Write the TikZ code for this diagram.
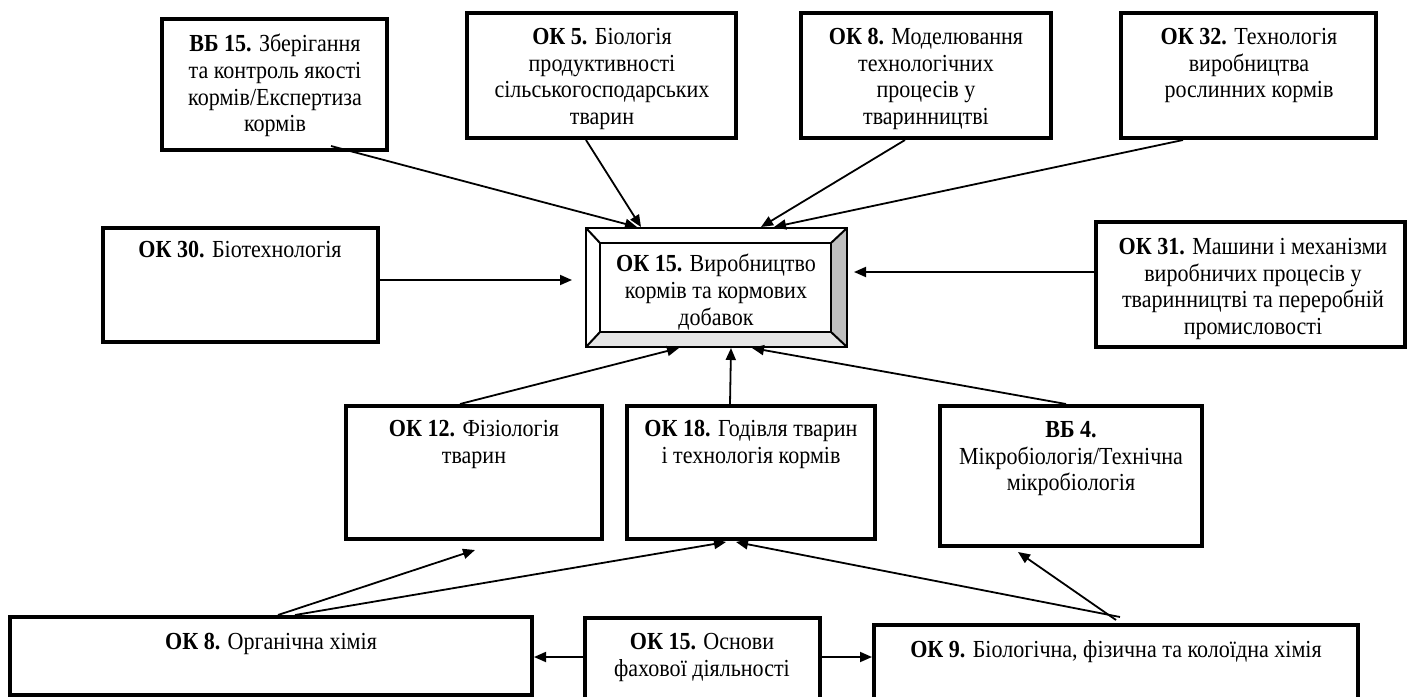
\documentclass[tikz,border=0pt]{standalone}
\usepackage{fontspec}
\setmainfont{Liberation Serif}[FakeStretch=0.9]
\usetikzlibrary{arrows.meta,calc}
\tikzset{
  box/.style={draw=black,line width=2pt,rectangle,inner sep=0pt,fill=none},
  txt/.style={font=\fontsize{12.25}{13.3}\selectfont,align=center,inner sep=0pt,anchor=north},
  arr/.style={draw=black,line width=0.9pt,-{Triangle[length=6pt,width=5pt]}},
  bevel/.style={draw=black,line width=1pt}
}
\begin{document}
\begin{tikzpicture}[x=0.5pt,y=-0.5pt]
\useasboundingbox (0,0) rectangle (1408,696);
\fill[white] (0,0) rectangle (1408,696);
\clip (0,0) rectangle (1408,696);
% bevelled centre box
\fill[gray!50] (847,228) -- (847,347) -- (831,332) -- (831,243) -- cycle;
\fill[gray!20] (586,347) -- (847,347) -- (831,332) -- (600,332) -- cycle;
\draw[bevel] (600,243) rectangle (831,332);
\draw[bevel] (586,228) -- (600,243) (847,228) -- (831,243) (847,347) -- (831,332) (586,347) -- (600,332);
\node[draw=black,line width=1pt,inner sep=0pt,minimum width=130.5pt,minimum height=59.5pt] (ok15c) at (716.5,287.5) {};
\node[txt] (ok15ct) at (716,254) {\textbf{ОК 15.} Виробництво\\кормів та кормових\\добавок};
% top row
\node[box,minimum width=112.5pt,minimum height=65.5pt] (b15) at (274.5,84.5) {};
\node[txt] (b15t) at (275,34) {\textbf{ВБ 15.} Зберігання\\та контроль якості\\кормів/Експертиза\\кормів};
\node[box,minimum width=134.5pt,minimum height=62.5pt] (ok5) at (601.5,75.5) {};
\node[txt] (ok5t) at (602,28) {\textbf{ОК 5.} Біологія\\продуктивності\\сільськогосподарських\\тварин};
\node[box,minimum width=125pt,minimum height=62.5pt] (ok8t) at (926,75.5) {};
\node[txt] (ok8tt) at (926,28) {\textbf{ОК 8.} Моделювання\\технологічних\\процесів у\\тваринництві};
\node[box,minimum width=127.5pt,minimum height=62.5pt] (ok32) at (1248.5,75.5) {};
\node[txt] (ok32t) at (1249,28) {\textbf{ОК 32.} Технологія\\виробництва\\рослинних кормів};
% middle row
\node[box,minimum width=137.5pt,minimum height=57pt] (ok30) at (240.5,285) {};
\node[txt] (ok30t) at (240,241) {\textbf{ОК 30.} Біотехнологія};
\node[box,minimum width=154.5pt,minimum height=62.5pt] (ok31) at (1250.5,284.5) {};
\node[txt] (ok31t) at (1253,238) {\textbf{ОК 31.} Машини і механізми\\виробничих процесів у\\тваринництві та переробній\\промисловості};
% lower row
\node[box,minimum width=128pt,minimum height=66.5pt] (ok12) at (474,472.5) {};
\node[txt] (ok12t) at (474,420) {\textbf{ОК 12.} Фізіологія\\тварин};
\node[box,minimum width=124pt,minimum height=66.5pt] (ok18) at (751,472.5) {};
\node[txt] (ok18t) at (751,420) {\textbf{ОК 18.} Годівля тварин\\і технологія кормів};
\node[box,minimum width=131pt,minimum height=70pt] (vb4) at (1071,476) {};
\node[txt] (vb4t) at (1071,421) {\textbf{ВБ 4.}\\Мікробіологія/Технічна\\мікробіологія};
% bottom row
\node[box,minimum width=261pt,minimum height=39pt] (ok8b) at (271,656) {};
\node[txt] (ok8bt) at (271,633) {\textbf{ОК 8.} Органічна хімія};
\node[box,minimum width=117.5pt,minimum height=43.5pt] (ok15b) at (702.5,661.5) {};
\node[txt] (ok15bt) at (702,633) {\textbf{ОК 15.} Основи\\фахової діяльності};
\node[box,minimum width=242pt,minimum height=40pt] (ok9) at (1116,665) {};
\node[txt] (ok9t) at (1116,640) {\textbf{ОК 9.} Біологічна, фізична та колоїдна хімія};
% connectors
\draw[arr] ($(b15.south west)+(171,-6)$) -- ($(ok15c.north west)+(52,0)$);
\draw[arr] ($(ok5.south west)+(121,0)$) -- ($(ok15c.north west)+(56,0)$);
\draw[arr] ($(ok8t.south west)+(106,0)$) -- ($(ok15c.north west)+(176,0)$);
\draw[arr] ($(ok32.south west)+(64,0)$) -- ($(ok15c.north west)+(189,0)$);
\draw[arr] ($(ok30.east)+(0,-5)$) -- ($(ok15c.west)+(-13,-7.5)$);
\draw[arr] ($(ok31.west)+(0,-12.5)$) -- ($(ok15c.east)+(6,-15.5)$);
\draw[arr] ($(ok12.north west)+(116,0)$) -- ($(ok15c.south west)+(94,0)$);
\draw[arr] ($(ok18.north west)+(105,0)$) -- ($(ok15c.south west)+(146,0)$);
\draw[arr] ($(vb4.north west)+(128,0)$) -- ($(ok15c.south west)+(167,0)$);
\draw[arr] ($(ok8b.north west)+(270,0)$) -- ($(ok12.south west)+(131,9)$);
\draw[arr] ($(ok8b.north west)+(287,0)$) -- ($(ok18.south west)+(101,1)$);
\draw[arr] ($(ok9.north west)+(248,-6)$) -- ($(ok18.south west)+(111,1)$);
\draw[arr] ($(ok9.north west)+(244,-3)$) -- ($(vb4.south west)+(80,4)$);
\draw[arr] ($(ok15b.west)+(0,-4.5)$) -- ($(ok8b.east)+(0,1)$);
\draw[arr] ($(ok15b.east)+(0,-4.5)$) -- ($(ok9.west)+(0,-8)$);
\end{tikzpicture}
\end{document}
